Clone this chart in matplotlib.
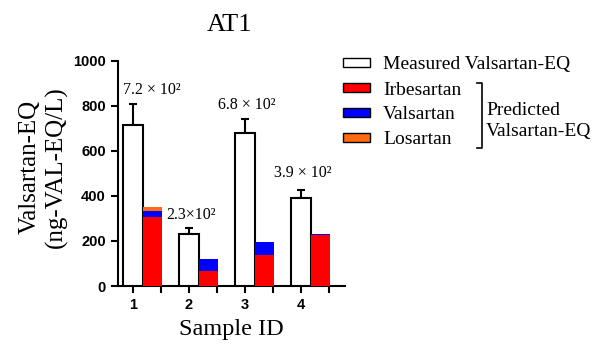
import numpy as np
import matplotlib
matplotlib.use("Agg")
import matplotlib.pyplot as plt
from matplotlib.patches import Rectangle
from matplotlib.lines import Line2D

samples = ["1", "2", "3", "4"]
measured = [714, 229, 679, 389]
measured_err = [92, 30, 61, 37]
irbesartan = [305, 68, 138, 226]
valsartan = [29, 50, 57, 5]
losartan = [15, 0, 0, 0]
labels = ["7.2 × 10²", "2.3×10²", "6.8 × 10²", "3.9 × 10²"]

serif = "Liberation Serif"
sans = "Liberation Sans"
W, H = 593, 345

fig = plt.figure(figsize=(5.93, 3.45), dpi=100)
ax = fig.add_axes([0.1985, 0.171, 0.3833, 0.653])

x = np.arange(1, len(samples) + 1)
w = 0.34
irb = np.array(irbesartan)
val = np.array(valsartan)
los = np.array(losartan)

ax.bar(x, measured, w, color="white", edgecolor="black", linewidth=1.5, zorder=3)
ax.errorbar(x, measured, yerr=[np.zeros(4), measured_err], fmt="none",
            ecolor="black", elinewidth=1.5, capsize=3, capthick=1.5, zorder=2)
ax.bar(x + w, irb, w, color="#ff0000", zorder=3)
ax.bar(x + w, val, w, bottom=irb, color="#0000ff", zorder=3)
ax.bar(x + w, los, w, bottom=irb + val, color="#ff6a10", zorder=3)

# value labels above the measured bars
offs = [(0.33, 64), (0.04, 56), (0.03, 63), (0.04, 75)]
for xi, m, e, t, (dx, dy) in zip(x, measured, measured_err, labels, offs):
    ax.text(xi + dx, m + e + dy, t, ha="center", va="center",
            fontsize=11.5, family=serif)

ax.set_xlim(0.727, 4.786)
ax.set_ylim(0, 1000)
ax.set_yticks(range(0, 1001, 200))
ax.set_xticks(x)
ax.set_xticklabels(samples)
ax.set_xticks(x + 0.5, minor=True)
for s in ["top", "right"]:
    ax.spines[s].set_visible(False)
for s in ["left", "bottom"]:
    ax.spines[s].set_linewidth(1.5)
ax.tick_params(which="both", direction="out", length=5, width=1.5)
for lab in ax.get_xticklabels() + ax.get_yticklabels():
    lab.set_family(sans)
    lab.set_fontweight("bold")
    lab.set_fontsize(10.5)

fig.text(229 / W, 1 - 25 / H, "AT1", ha="center", va="center",
         fontsize=19, family=serif)
fig.text(231 / W, 1 - 330 / H, "Sample ID", ha="center", va="center",
         fontsize=17.5, family=serif)
fig.text(43 / W, 1 - 167 / H, "Valsartan-EQ\n(ng-VAL-EQ/L)", rotation=90,
         ha="center", va="center", fontsize=18, family=serif,
         multialignment="center", linespacing=1.25)

# legend drawn by hand
leg_colors = ["white", "#ff0000", "#0000ff", "#ff6a10"]
names = ["Measured Valsartan-EQ", "Irbesartan", "Valsartan", "Losartan"]
rows = [65, 90, 115, 140]
for c, n, r in zip(leg_colors, names, rows):
    fig.add_artist(Rectangle((343 / W, 1 - (r + 2) / H), 27 / W, 9 / H,
                             facecolor=c, edgecolor="black", linewidth=1,
                             transform=fig.transFigure))
    fig.text(383 / W, 1 - r / H, n, ha="left", va="center",
             fontsize=14, family=serif)

# bracket for the predicted group
bx = 481.7 / W
y0, y1 = 1 - 83 / H, 1 - 148 / H
hook = 5 / W
fig.add_artist(Line2D([bx - hook, bx, bx, bx - hook], [y0, y0, y1, y1],
                      color="black", linewidth=1.2, transform=fig.transFigure))
fig.text(486 / W, 1 - 121 / H, "Predicted\nValsartan-EQ", ha="left",
         va="center", fontsize=14, family=serif, linespacing=1.35)

fig.savefig("out.png", dpi=100)
